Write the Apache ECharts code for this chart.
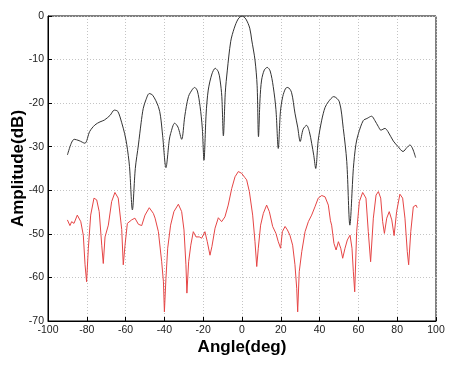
<!DOCTYPE html>
<html>
<head>
<meta charset="utf-8">
<script src="https://cdn.jsdelivr.net/npm/echarts@6/dist/echarts.min.js"></script>
<style>
  html, body { margin: 0; padding: 0; background: #fff; }
  #chart { width: 454px; height: 366px; }
</style>
</head>
<body>
<div id="chart"></div>
<script>
// tick values
const xTicks = [-100, -80, -60, -40, -20, 0, 20, 40, 60, 80, 100];
const yTicks = [-70, -60, -50, -40, -30, -20, -10, 0];

// beam pattern (black), [angle, dB]
const patternAngle = [
  -90, -88, -86.5, -84, -81, -78.5, -75.8, -73.2, -71, -68, -65.8, -64, -62, -60.5, -59.4, -58, -56.5,
  -55, -53.4, -52, -50.9, -49.5, -47.8, -46, -43.1, -42, -40.9, -39.2, -37.5, -36.8, -34.7, -33, -31.1,
  -29.5, -27.6, -25.5, -24.4, -23, -21.6, -20.5, -19.6, -18.5, -17.4, -15.5, -13.8, -12.2, -11.3, -10.4, -9.6,
  -8.6, -7.6, -5.8, -4, -2, 0, 2, 4, 5, 6.7, 7.8, 8.5,
  9.3, 10.1, 11.5, 13, 14.5, 16.1, 17.5, 18.7, 19.8, 21, 22.5, 23.6, 25.5, 27.3, 28.7, 30,
  31.5, 33.3, 34.7, 35.9, 37, 38, 39.3, 41.1, 42.8, 44.5, 47.3, 50.2, 52.2, 54, 55.6,
  57.4, 58.7, 60, 62.5, 64.5, 66.8, 68.5, 70.3, 71.6, 73.7, 75.2, 78, 80.5, 83, 85, 86.6, 88, 89.5
];
const patternDb = [
  -31.9, -29.2, -28.3, -28.6, -29.2, -26.5, -25.0, -24.3, -23.9, -22.8, -21.6, -21.9, -24.5, -27.0, -29.5, -34.5, -44.5,
  -35.0, -29.6, -24.5, -21.2, -19.2, -17.8, -18.2, -20.8, -23.0, -27.5, -34.8, -28.5, -27.0, -24.6, -25.5, -28.3,
  -23.0, -18.5, -16.8, -16.4, -17.2, -20.8, -25.5, -33.1, -22.5, -17.0, -13.3, -12.0, -12.8, -14.7, -18.5, -27.5,
  -17.5, -12.6, -5.8, -2.8, -0.7, 0, -0.7, -2.8, -5.5, -10.1, -16.0, -27.7,
  -19.0, -14.7, -12.4, -11.8, -12.6, -16.2, -21.5, -30.4, -22.0, -18.5, -16.6, -16.4, -17.5, -22.3, -25.5, -28.8,
  -26.0, -25.1, -26.5, -29.2, -32.0, -35.0, -28.5, -23.9, -21.0, -19.7, -18.5, -19.7, -25.8, -33.4, -48.0,
  -35.0, -29.5, -27.0, -24.0, -23.5, -23.0, -24.0, -25.4, -26.2, -25.8, -26.5, -28.7, -30.0, -31.1, -30.2, -29.6, -30.5, -32.5
];

// measured pattern (red), [angle, dB]
const measuredAngle = [
  -90, -88.7, -87.8, -86.6, -84.9, -83.1, -81.8, -80.9, -80.1, -79.2, -78, -76.3, -74.9, -73.6, -72.3, -71.5,
  -70.6, -68.9, -67.2, -65.5, -63.8, -62, -61.2, -60.3, -59.1, -56.9, -55.2, -53.4, -51.7, -50, -47.8, -45.7,
  -44.8, -43.1, -41.4, -40.5, -40, -39.2, -38.3, -36.8, -35.1, -32.8, -31.1, -29.9, -28.9, -28.4, -27.5, -26.4,
  -25.1, -23.7, -22, -20.8, -19.1, -17.9, -16.5, -15.5, -13.9, -12.2, -10.5, -8.8, -7.1, -5.3, -3.6, -1.9,
  -0.2, 1.5, 2.4, 3.8, 5.5, 6.7, 7.6, 8.4, 9.6, 11, 12.7, 14.1, 15.8, 17.5, 18.7, 19.9,
  20.8, 22.2, 23.4, 24.7, 26.1, 27.3, 28.2, 28.7, 29.5, 30.8, 32.5, 34.2, 35.9, 37.6, 39.3, 41.1,
  42.8, 44.5, 45.6, 46.2, 47.4, 48.5, 49.7, 50.9, 51.9, 53.1, 54.3, 55.7, 56.7, 57.4, 58.1, 59.1,
  60.5, 62.2, 63.9, 65.1, 66.3, 67.7, 69.1, 70.3, 71.5, 72.5, 73.4, 74.6, 75.9, 77.2, 78.4, 79.7,
  81.4, 82.8, 84, 85.2, 85.9, 87, 88.3, 89.7, 90.3
];
const measuredDb = [
  -46.8, -48.1, -47.2, -47.6, -45.7, -47.2, -50.3, -57.1, -61.0, -53.3, -45.7, -41.8, -42.2, -44.9, -52.6, -56.8,
  -50.7, -48.0, -42.6, -40.5, -41.8, -49.0, -57.1, -52.6, -47.6, -46.8, -46.4, -47.8, -48.1, -45.7, -44.0, -45.3,
  -46.4, -49.5, -56.4, -61.0, -67.9, -60.2, -53.3, -48.0, -44.9, -43.2, -44.9, -49.1, -57.1, -63.6, -56.4, -52.6,
  -49.5, -50.7, -50.7, -51.0, -49.5, -51.8, -54.9, -52.9, -48.7, -46.3, -47.2, -46.1, -43.4, -39.6, -36.9, -35.7,
  -36.1, -37.1, -37.6, -40.3, -45.7, -51.8, -57.5, -53.3, -48.0, -45.3, -43.4, -44.9, -48.3, -49.9, -51.8, -53.3,
  -49.5, -48.3, -49.1, -50.3, -52.6, -57.1, -62.5, -67.9, -58.7, -54.1, -49.5, -47.2, -45.7, -43.8, -41.8, -41.2,
  -41.5, -43.4, -47.0, -48.0, -52.2, -53.7, -51.8, -53.3, -55.6, -53.3, -51.4, -50.3, -53.3, -58.7, -63.3, -49.5,
  -42.6, -40.5, -41.8, -49.5, -56.4, -46.4, -41.1, -40.3, -41.8, -47.2, -49.9, -46.4, -44.9, -46.8, -50.4, -44.9,
  -40.9, -41.8, -46.4, -54.1, -57.1, -49.5, -43.8, -43.4, -44.0
];

const chart = echarts.init(document.getElementById("chart"));

chart.setOption({
  backgroundColor: "#fff",
  animation: false,
  grid: {
    left: 48, right: 18, top: 16, bottom: 45,
    outerBoundsMode: "none",
    show: true, borderColor: "#000", borderWidth: 1, backgroundColor: "#fff"
  },
  xAxis: {
    type: "value",
    min: xTicks[0],
    max: xTicks[xTicks.length - 1],
    interval: 20,
    name: "Angle(deg)",
    nameLocation: "middle",
    nameGap: 18,
    nameMoveOverlap: false,
    nameTextStyle: { fontFamily: "Liberation Sans", fontWeight: "bold", fontSize: 17, color: "#000" },
    axisLine: { onZero: false, lineStyle: { color: "#000", width: 1 } },
    axisTick: { inside: true, length: 4, lineStyle: { color: "#000" } },
    axisLabel: { fontFamily: "Liberation Sans", fontSize: 10.5, color: "#222", margin: 4 },
    splitLine: { show: true, lineStyle: { color: "#c4c4c4", type: [1, 2], width: 1 } }
  },
  yAxis: {
    type: "value",
    min: yTicks[0],
    max: yTicks[yTicks.length - 1],
    interval: 10,
    name: "Amplitude(dB)",
    nameLocation: "middle",
    nameGap: 21,
    nameRotate: 90,
    nameMoveOverlap: false,
    nameTextStyle: { fontFamily: "Liberation Sans", fontWeight: "bold", fontSize: 17, color: "#000" },
    axisLine: { onZero: false, lineStyle: { color: "#000", width: 1 } },
    axisTick: { inside: true, length: 4, lineStyle: { color: "#000" } },
    axisLabel: { fontFamily: "Liberation Sans", fontSize: 10.5, color: "#222", margin: 4 },
    splitLine: { show: true, lineStyle: { color: "#c4c4c4", type: [1, 2], width: 1 } }
  },
  series: [
    {
      name: "pattern",
      type: "line",
      showSymbol: false,
      smooth: 0.3,
      lineStyle: { color: "#333", width: 1 },
      data: patternAngle.map((a, i) => [a, patternDb[i]])
    },
    {
      name: "measured",
      type: "line",
      showSymbol: false,
      lineStyle: { color: "#e64545", width: 1 },
      data: measuredAngle.map((a, i) => [a, measuredDb[i]])
    }
  ]
});
</script>
</body>
</html>
